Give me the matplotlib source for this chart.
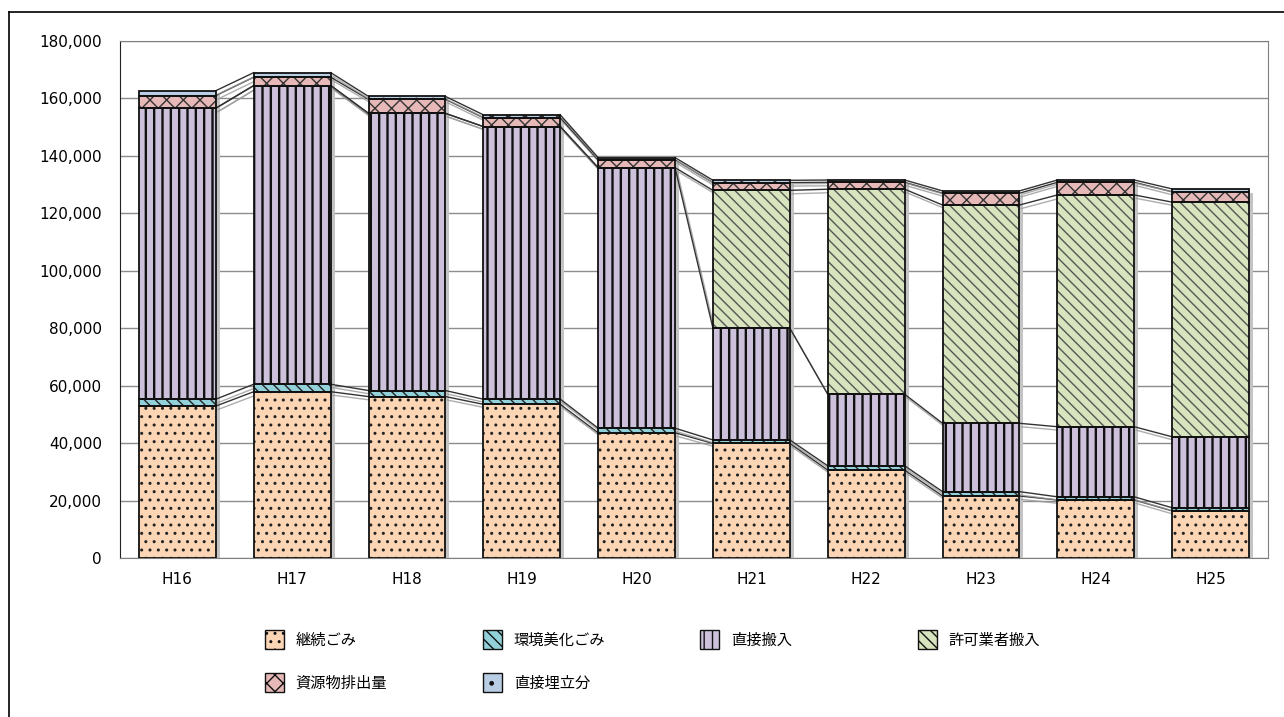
import numpy as np
import matplotlib
matplotlib.use("Agg")
import matplotlib.pyplot as plt
import matplotlib.patheffects as pe
from matplotlib.transforms import offset_copy
from matplotlib.patches import Patch
from matplotlib.ticker import FuncFormatter

plt.rcParams['font.family'] = ['Noto Sans CJK JP', 'DejaVu Sans']
plt.rcParams['hatch.linewidth'] = 1.0

years = ["H16", "H17", "H18", "H19", "H20", "H21", "H22", "H23", "H24", "H25"]

keizoku = [52900, 57900, 56200, 53500, 43600, 39900, 30600, 21600, 20200, 16400]
kankyo = [2400, 2600, 2100, 1800, 1600, 1200, 1500, 1500, 1100, 1100]
chokusetsu = [101300, 104000, 96500, 94900, 90700, 38900, 24900, 23800, 24400, 24700]
kyoka = [0, 0, 0, 0, 0, 48000, 71400, 76000, 80700, 81700]
shigen = [4400, 2900, 4900, 3100, 2700, 2700, 2400, 4100, 4400, 3600]
umetate = [1700, 1600, 1000, 1000, 800, 800, 800, 800, 800, 1000]

names = ["継続ごみ", "環境美化ごみ", "直接搬入", "許可業者搬入", "資源物排出量", "直接埋立分"]
series = [keizoku, kankyo, chokusetsu, kyoka, shigen, umetate]
colors = ["#FCD5B4", "#93D1DA", "#CCC0DA", "#D7E4BD", "#E6B9B8", "#B9CDE5"]
hatches = ["..", "\\\\\\", "||", "\\\\\\", "xx", "."]
hatch_cols = ["#222222", "#222222", "#111111", "#555555", "#333333", "#333333"]
hatch_lws = [1.0, 1.0, 1.7, 1.0, 1.0, 1.0]

fig = plt.figure(figsize=(12.84, 7.17), dpi=100)
ax = fig.add_axes([120 / 1284, 1 - 558 / 717, 1148 / 1284, 517 / 717])

x = np.arange(len(years))
w = 0.67

totals = np.sum(np.array(series), axis=0)

# shadow behind each stack
shadow_tr = offset_copy(ax.transData, fig=fig, x=4, y=-4, units='dots')
ax.bar(x, totals, w, color="#c4c4c4", edgecolor="none", zorder=1.2, transform=shadow_tr)

bottom = np.zeros(len(years))
for vals, c, h, hc, hlw in zip(series, colors, hatches, hatch_cols, hatch_lws):
    vals = np.array(vals)
    ax.bar(x, vals, w, bottom=bottom, color=c, edgecolor="none", zorder=2)
    with plt.rc_context({'hatch.linewidth': hlw}):
        ax.bar(x, vals, w, bottom=bottom, color="none", edgecolor=hc, hatch=h, linewidth=0, zorder=2.1)
    ax.bar(x, vals, w, bottom=bottom, color="none", edgecolor="#111111", linewidth=1.3, zorder=2.2)
    bottom = bottom + vals

# series lines between bars
cum = np.cumsum(np.array(series), axis=0)
for row in cum:
    for i in range(len(years) - 1):
        ax.plot([x[i] + w / 2, x[i + 1] - w / 2], [row[i], row[i + 1]], color="#333333", lw=1.0,
                zorder=1.5,
                path_effects=[pe.SimpleLineShadow(offset=(1.5, -2.5), shadow_color="#999999", alpha=0.8),
                              pe.Normal()])

ax.set_xlim(-0.5, len(years) - 0.5)
ax.set_ylim(0, 180000)
ax.set_yticks(np.arange(0, 180001, 20000))
ax.yaxis.set_major_formatter(FuncFormatter(lambda v, p: f"{int(v):,}"))
ax.set_xticks(x)
ax.set_xticklabels(years)
ax.tick_params(axis='y', length=0, pad=13, labelsize=11)
ax.tick_params(axis='x', length=0, pad=10, labelsize=11)
for lab in ax.get_xticklabels() + ax.get_yticklabels():
    lab.set_family('DejaVu Sans')
ax.yaxis.grid(True, color="#8c8c8c", lw=1.0)
ax.set_axisbelow(True)
for s in ["top", "right", "bottom"]:
    ax.spines[s].set_color("#808080")
ax.spines["left"].set_color("#222222")

# outer frame
fig.add_artist(plt.Line2D([9 / 1284, 9 / 1284], [0, 1 - 12 / 717], color="black", lw=1.2))
fig.add_artist(plt.Line2D([9 / 1284, 1], [1 - 12 / 717, 1 - 12 / 717], color="black", lw=1.2))

# legend, laid out on a fixed grid like the original
col_x = [253, 471, 688, 906]
groups = [[0, 4], [1, 5], [2], [3]]
for cx, g in zip(col_x, groups):
    handles = [Patch(facecolor=colors[k], edgecolor="#111111", hatch=hatches[k], lw=1.0) for k in g]
    fig.legend(handles, [names[k] for k in g], loc="upper left",
               bbox_to_anchor=(cx / 1284, 1 - 618 / 717), frameon=False, fontsize=11,
               handlelength=1.2, handleheight=1.5, handletextpad=0.8, labelspacing=1.6,
               borderpad=0.3)

fig.savefig("out.png", dpi=100)
